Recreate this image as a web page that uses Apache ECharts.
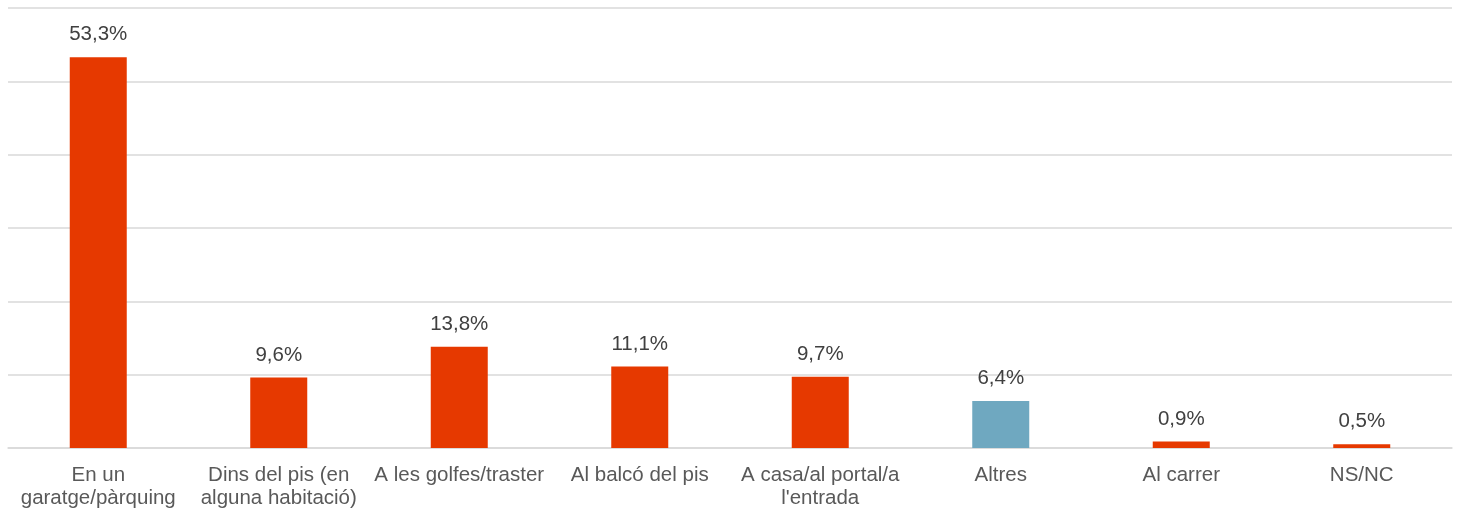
<!DOCTYPE html>
<html><head><meta charset="utf-8">
<script src="https://cdn.jsdelivr.net/npm/echarts@6/dist/echarts.min.js"></script>
<style>html,body{margin:0;padding:0;background:#fff}#c{width:1460px;height:512px}</style>
</head><body><div id="c"></div>
<script>
const categories = ['En un\ngaratge/pàrquing','Dins del pis (en\nalguna habitació)','A les golfes/traster','Al balcó del pis','A casa/al portal/a\nl\'entrada','Altres','Al carrer','NS/NC'];
const values = [53.3, 9.6, 13.8, 11.1, 9.7, 6.4, 0.9, 0.5];
const highlight = ['Altres'];
const chart = echarts.init(document.getElementById('c'));
chart.setOption({
  animation:false,
  grid:{left:8,right:8,top:8,bottom:64,containLabel:false},
  xAxis:{type:'category',data:categories,
    axisTick:{show:false},
    axisLine:{lineStyle:{color:'#D9D9D9',width:1.5}},
    axisLabel:{color:'#595959',fontFamily:'Liberation Sans, Arial',fontSize:20.5,lineHeight:23,margin:16,interval:0}},
  yAxis:{type:'value',min:0,max:60,interval:10,axisLabel:{show:false},
    splitLine:{lineStyle:{color:'#D9D9D9',width:1.5}}},
  series:[{type:'bar',barWidth:57,
    data:values.map((v,i)=>({value:v,itemStyle:{color:highlight.includes(categories[i])?'#6FA8C0':'#E63900'}})),
    label:{show:true,position:'top',distance:12,color:'#404040',fontFamily:'Liberation Sans, Arial',fontSize:20.5,
      formatter:p=>p.value.toFixed(1).replace('.',',')+'%'}}]
});
</script></body></html>
